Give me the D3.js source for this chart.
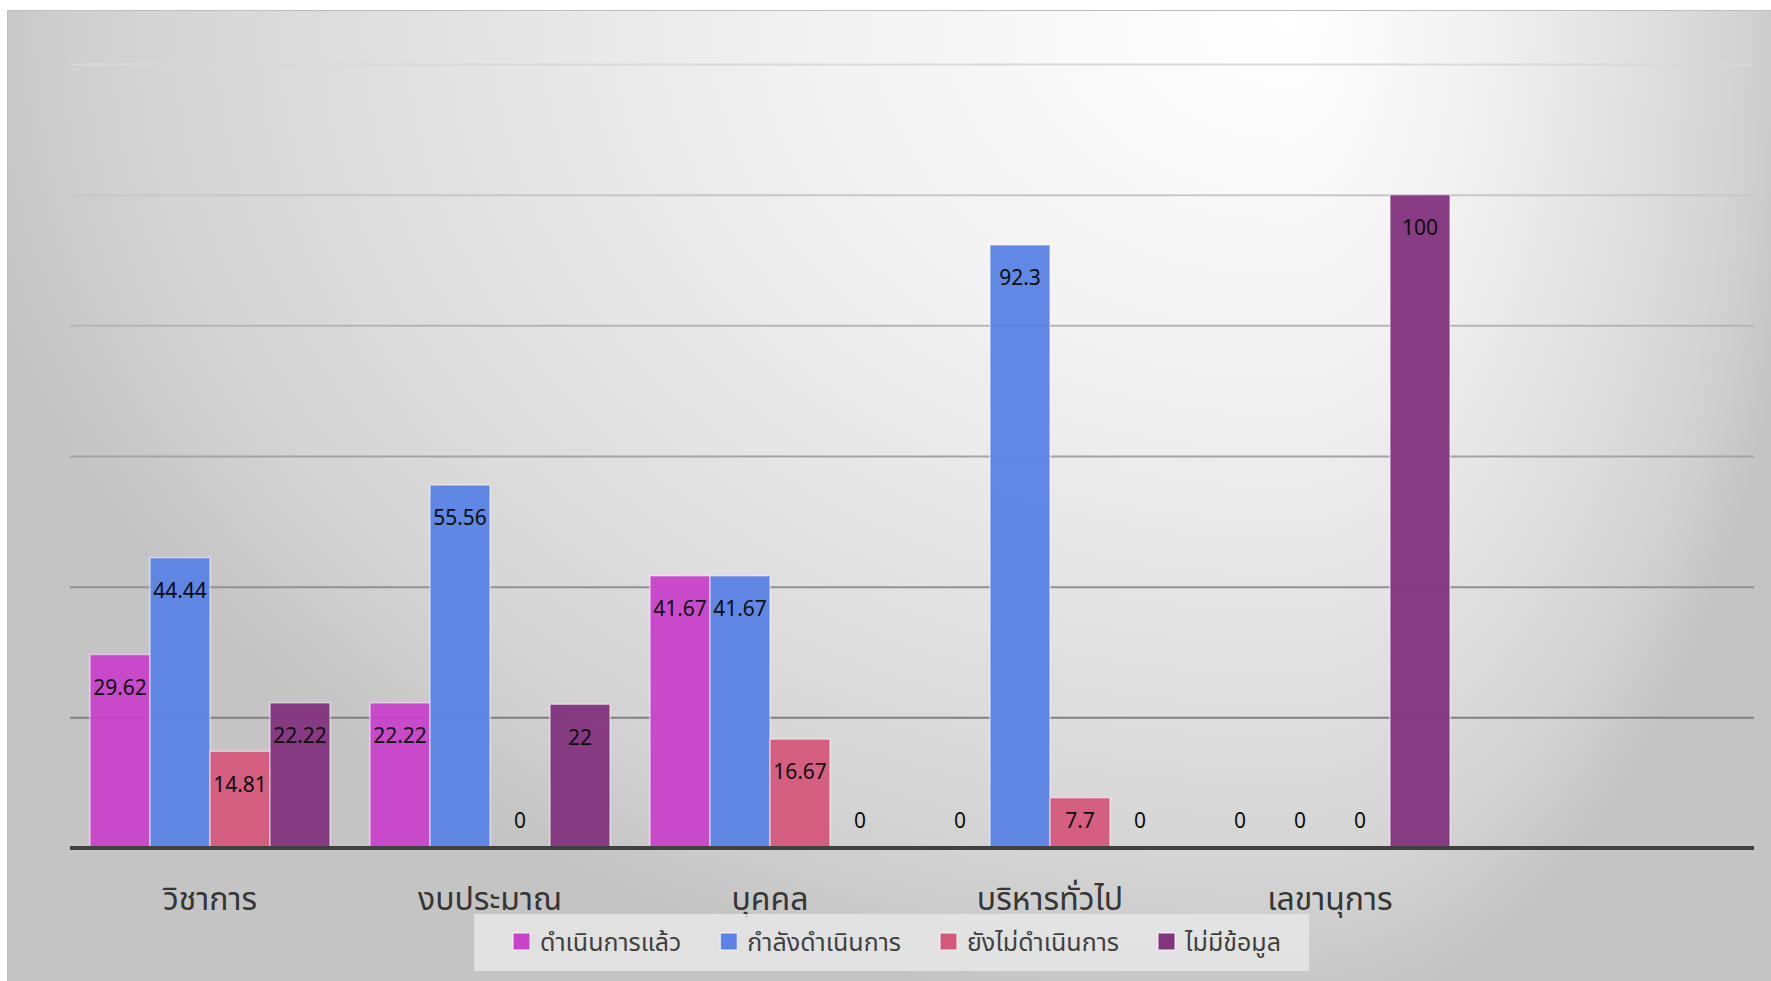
<!DOCTYPE html>
<html>
<head>
<meta charset="utf-8">
<script src="https://cdn.jsdelivr.net/npm/d3@7"></script>
<style>
  html, body { margin: 0; padding: 0; background: #fff; }
  svg { display: block; }
  text { font-family: "Noto Sans Thai", Tahoma, "Noto Sans", sans-serif; }
</style>
</head>
<body>
<div id="chart"></div>
<script>
const categories = ['วิชาการ', 'งบประมาณ', 'บุคคล', 'บริหารทั่วไป', 'เลขานุการ'];
const seriesNames = ['ดำเนินการแล้ว', 'กำลังดำเนินการ', 'ยังไม่ดำเนินการ', 'ไม่มีข้อมูล'];
const done       = [29.62, 22.22, 41.67, 0, 0];
const inProgress = [44.44, 55.56, 41.67, 92.3, 0];
const notStarted = [14.81, 0, 16.67, 7.7, 0];
const noData     = [22.22, 22, 0, 0, 100];
const gridTicks  = [20, 40, 60, 80, 100, 120];

const colors = ['#c845cb', '#5a83e3', '#d45a7c', '#82347f'];
const seriesValues = [done, inProgress, notStarted, noData];

const width = 1771;
const height = 981;

// plot area
const margin = { top: 64, right: 19, bottom: 133, left: 70 };
const innerWidth = width - margin.left - margin.right;
const innerHeight = height - margin.top - margin.bottom;

// the source chart keeps an empty sixth slot on the right
const slots = [...categories, ''];

const xScale = d3.scaleBand()
  .domain(slots)
  .range([0, 280 * slots.length]);

const xInner = d3.scaleBand()
  .domain(seriesNames)
  .range([20, xScale.bandwidth() - 20]);

const yScale = d3.scaleLinear()
  .domain([0, 120])
  .range([innerHeight, 0]);

const gridColor = d3.scaleLinear()
  .domain([120, 0])
  .range(['#d9d9d9', '#6e6e6e']);

const svg = d3.select('#chart')
  .append('svg')
    .attr('width', width)
    .attr('height', height);

const defs = svg.append('defs');

// chart area shading: bright spot near the top right, two half ellipses
const glow = { x: 1290, y: 20 };
const halves = [
  { id: 'bgL', x0: 7, x1: glow.x, rx: 1350 },
  { id: 'bgR', x0: glow.x, x1: width, rx: 520 }
];
const bgStops = [[0, '#ffffff'], [0.35, '#f2f2f2'], [0.6, '#e4e4e4'], [0.85, '#d4d4d4'], [1, '#c4c4c4']];

halves.forEach(h => {
  const g = defs.append('radialGradient')
    .attr('id', h.id)
    .attr('gradientUnits', 'userSpaceOnUse')
    .attr('cx', 0).attr('cy', 0).attr('r', 1)
    .attr('gradientTransform', `translate(${glow.x}, ${glow.y}) scale(${h.rx}, 1000)`);
  bgStops.forEach(s => g.append('stop').attr('offset', s[0]).attr('stop-color', s[1]));
  svg.append('rect')
    .attr('x', h.x0)
    .attr('y', 10)
    .attr('width', h.x1 - h.x0 + 0.5)
    .attr('height', height - 10)
    .attr('fill', `url(#${h.id})`);
});

svg.append('rect')
  .attr('x', 7.5)
  .attr('y', 10.5)
  .attr('width', width - 7)
  .attr('height', height - 10)
  .attr('fill', 'none')
  .attr('stroke', '#bdbdbd')
  .attr('stroke-width', 1);

const inner = svg.append('g')
  .attr('transform', `translate(${margin.left}, ${margin.top})`);

// gridlines
const grid = inner.append('g')
  .attr('class', 'grid')
  .call(d3.axisLeft(yScale).tickValues(gridTicks).tickSize(-(innerWidth + 2)).tickFormat(''));
grid.select('.domain').remove();
grid.selectAll('line')
  .attr('stroke', d => gridColor(d))
  .attr('stroke-width', 2);

// bars
const rows = categories.map((c, i) => ({
  category: c,
  values: seriesNames.map((s, j) => ({ series: s, value: seriesValues[j][i], color: colors[j] }))
}));

const group = inner.selectAll('.cat')
  .data(rows)
  .enter().append('g')
    .attr('class', 'cat')
    .attr('transform', d => `translate(${xScale(d.category)}, 0)`);

group.selectAll('rect')
  .data(d => d.values.filter(v => v.value > 0))
  .enter().append('rect')
    .attr('x', d => xInner(d.series))
    .attr('y', d => yScale(d.value))
    .attr('width', xInner.bandwidth())
    .attr('height', d => innerHeight - yScale(d.value))
    .attr('fill', d => d.color)
    .attr('fill-opacity', 0.96)
    .attr('stroke', 'rgba(255,255,255,0.5)')
    .attr('stroke-width', 1.5);

group.selectAll('text')
  .data(d => d.values)
  .enter().append('text')
    .attr('x', d => xInner(d.series) + xInner.bandwidth() / 2)
    .attr('y', d => Math.min(yScale(d.value) + 33, innerHeight - 27))
    .attr('dy', '0.35em')
    .attr('text-anchor', 'middle')
    .style('font-family', 'Tahoma, "Noto Sans", sans-serif')
    .style('font-size', '21px')
    .attr('fill', '#0d0d0d')
    .text(d => d.value);

// x axis
const xAxis = inner.append('g')
  .attr('class', 'axis axis-x')
  .attr('transform', `translate(0, ${innerHeight})`)
  .call(d3.axisBottom(xScale).tickSize(0).tickSizeOuter(0));
xAxis.select('.domain')
  .attr('stroke', '#404040')
  .attr('stroke-width', 4)
  .attr('d', `M0,0H${innerWidth + 2}`);
xAxis.selectAll('.tick').filter(d => d === '').remove();
xAxis.selectAll('text')
  .attr('y', 62)
  .attr('dy', 0)
  .attr('fill', '#353535')
  .style('font-family', '"Noto Sans Thai", Tahoma, sans-serif')
  .style('font-size', '32px');

// legend
const legend = svg.append('g').attr('class', 'legend');
const legendBox = legend.append('rect')
  .attr('fill', '#e6e6e6')
  .attr('fill-opacity', 0.85);

const items = legend.selectAll('.item')
  .data(seriesNames)
  .enter().append('g')
    .attr('class', 'item');

items.append('rect')
  .attr('y', 933)
  .attr('width', 17)
  .attr('height', 17)
  .attr('fill', (d, i) => colors[i])
  .attr('stroke', 'rgba(255,255,255,0.6)')
  .attr('stroke-width', 1.5);

items.append('text')
  .attr('x', 27)
  .attr('y', 951)
  .attr('fill', '#404040')
  .style('font-size', '25px')
  .text(d => d);

let cursor = 0;
const offsets = [];
items.each(function () {
  offsets.push(cursor);
  const w = d3.select(this).select('text').node().getComputedTextLength();
  cursor += 27 + w + 39;
});
const itemsWidth = cursor - 39;
const legendLeft = 897 - itemsWidth / 2;
items.attr('transform', (d, i) => `translate(${legendLeft + offsets[i]}, 0)`);

legendBox
  .attr('x', legendLeft - 39)
  .attr('y', 914)
  .attr('width', itemsWidth + 39 + 28)
  .attr('height', 57);
</script>
</body>
</html>
